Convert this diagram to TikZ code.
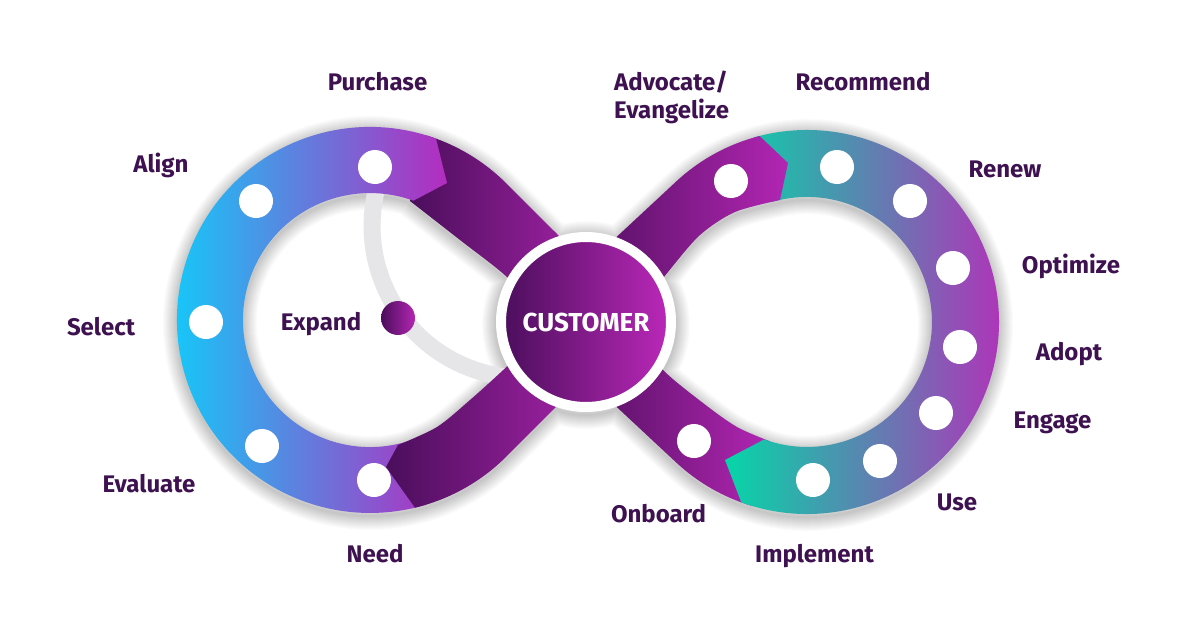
\documentclass[tikz,border=0pt]{standalone}
\usepackage{fontspec}
\setmainfont{Fira Sans}
\definecolor{txt}{HTML}{3E1150}
\definecolor{dk}{HTML}{4A0E5B}
\definecolor{mg}{HTML}{B326B3}
\definecolor{cyanL}{HTML}{0AD3FD}
\definecolor{mgL}{HTML}{B42CBF}
\definecolor{tealR}{HTML}{05D6A8}
\definecolor{mgR}{HTML}{BC28BA}
\definecolor{greyarc}{HTML}{E6E6E9}
\tikzset{
  lbl/.style={text=txt, font=\fontsize{24}{28}\selectfont\bfseries, anchor=base, inner sep=0pt},
  shadowstroke/.style={draw=black, draw opacity=0.016, line join=round},
  darkband/.style={left color=dk, right color=mg},
  whitedot/.style={circle, fill=white, minimum size=34pt, inner sep=0pt},
}
\def\pUL{(426.4,135.4) arc[start angle=-73, end angle=-45, radius=193] -- (557,234) -- (620,298) -- plot[smooth] coordinates {(545,318) (507,277) (460,240) (410,201)} -- cycle}
\def\pLL{(386,467) -- (415,507.7) arc[start angle=76.5, end angle=45, radius=193] -- (620,343) -- plot[smooth] coordinates {(548,328) (500,373) (470,400) (437,427) (398,445)} -- cycle}
\def\pUR{(788,163) -- (759.6,136) arc[start angle=-104.3, end angle=-133, radius=192] -- (566,284) -- plot[smooth] coordinates {(632,318) (668,272) (700,235) (735,212) (780,200)} -- cycle}
\def\pLR{(750.9,505.6) arc[start angle=107, end angle=133, radius=192] -- (566.4,360.1) -- plot[smooth] coordinates {(628,327) (663,370) (703,403) (737,427) (770.5,441.5)} -- cycle}
\def\pGL{(447,183) -- (436,138.6) arc[start angle=-70, end angle=-287, radius=193] -- (407.1,441.5) arc[start angle=73, end angle=290, radius=127] -- cycle}
\def\pGR{(725,460) -- (741.3,502.4) arc[start angle=110, end angle=-106, radius=192] -- (772.5,201.8) arc[start angle=-106, end angle=110, radius=125] -- cycle}
\def\pAll{\pGL \pGR \pUL \pLL \pUR \pLR (586,322) circle[radius=90]}
\begin{document}
\begin{tikzpicture}[x=1pt,y=1pt,yscale=-1]
\useasboundingbox[fill=white] (0,0) rectangle (1200,629);
% soft shadow of the whole figure
\begin{scope}[shift={(0,3)}]
\foreach \w in {2,4,...,28} {\path[shadowstroke, line width=\w pt] \pAll;}
\end{scope}
% expand arc
\draw[greyarc, line width=17pt] (377.2,186.7) arc[start angle=195, end angle=95, radius=152];
% bands
\shade[darkband] \pUL;
\shade[darkband] \pLR;
\shade[left color=cyanL, right color=mgL] \pGL;
\shade[left color=tealR, right color=mgR] \pGR;
\shade[darkband] \pLL;
\shade[darkband] \pUR;
% customer
\node[circle, minimum size=170pt, inner sep=0pt, draw=white, line width=10pt,
      left color=dk, right color=mgR,
      text=white, font=\fontsize{26}{28}\selectfont\bfseries] (cust) at (586,322) {CUSTOMER};
% dots left
\node[whitedot] (dPurchase) at (375,167) {};
\node[whitedot] (dAlign) at (256,201) {};
\node[whitedot] (dSelect) at (206,322) {};
\node[whitedot] (dEvaluate) at (262,446) {};
\node[whitedot] (dNeed) at (374,480) {};
% dots right
\node[whitedot] (dAdvocate) at (731,181) {};
\node[whitedot] (dRecommend) at (837,167) {};
\node[whitedot] (dRenew) at (910,201) {};
\node[whitedot] (dOptimize) at (953,268) {};
\node[whitedot] (dAdopt) at (960,347) {};
\node[whitedot] (dEngage) at (936,413) {};
\node[whitedot] (dUse) at (880,461) {};
\node[whitedot] (dImplement) at (813,480) {};
\node[whitedot] (dOnboard) at (694,441) {};
% expand dot
\node[circle, minimum size=34pt, inner sep=0pt, left color=dk, right color=mg] (dExpand) at (398,318) {};
% labels
\node[lbl] (lPurchase) at (377.5,90) {Purchase};
\node[lbl, anchor=base west] (lAdvocate) at (614,90) {Advocate/};
\node[lbl, anchor=base west] (lEvangelize) at (614,118) {Evangelize};
\node[lbl] (lRecommend) at (863,90) {Recommend};
\node[lbl] (lAlign) at (161,172) {Align};
\node[lbl] (lRenew) at (1005,177) {Renew};
\node[lbl] (lOptimize) at (1071,273) {Optimize};
\node[lbl] (lSelect) at (101,335) {Select};
\node[lbl] (lExpand) at (321,330) {Expand};
\node[lbl] (lAdopt) at (1069,360) {Adopt};
\node[lbl] (lEngage) at (1052.5,428) {Engage};
\node[lbl] (lEvaluate) at (149,492) {Evaluate};
\node[lbl] (lUse) at (957,510) {Use};
\node[lbl] (lOnboard) at (658.5,522) {Onboard};
\node[lbl] (lNeed) at (375,562) {Need};
\node[lbl] (lImplement) at (814.5,562) {Implement};
\end{tikzpicture}
\end{document}
